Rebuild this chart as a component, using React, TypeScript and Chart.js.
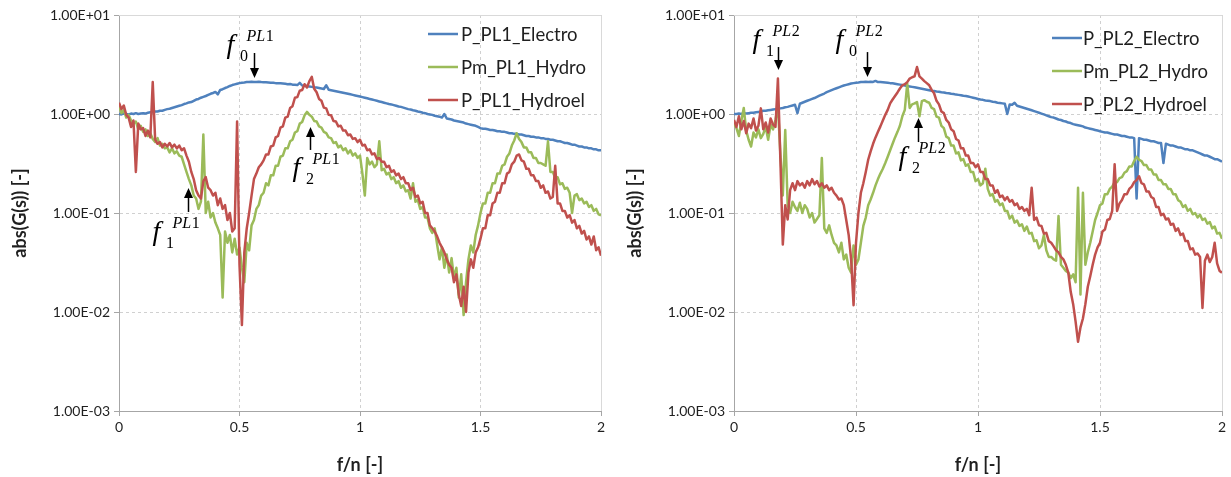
import React, { useEffect, useRef } from "react";
import { Chart, registerables } from "chart.js";

Chart.register(...registerables);

// ---------- DATA ----------
const FREQ = [
  0.00, 0.01, 0.02, 0.03, 0.04, 0.05, 0.06, 0.07, 0.08, 0.09,
  0.10, 0.11, 0.12, 0.13, 0.14, 0.15, 0.16, 0.17, 0.18, 0.19,
  0.20, 0.21, 0.22, 0.23, 0.24, 0.25, 0.26, 0.27, 0.28, 0.29,
  0.30, 0.31, 0.32, 0.33, 0.34, 0.35, 0.36, 0.37, 0.38, 0.39,
  0.40, 0.41, 0.42, 0.43, 0.44, 0.45, 0.46, 0.47, 0.48, 0.49,
  0.50, 0.51, 0.52, 0.53, 0.54, 0.55, 0.56, 0.57, 0.58, 0.59,
  0.60, 0.61, 0.62, 0.63, 0.64, 0.65, 0.66, 0.67, 0.68, 0.69,
  0.70, 0.71, 0.72, 0.73, 0.74, 0.75, 0.76, 0.77, 0.78, 0.79,
  0.80, 0.81, 0.82, 0.83, 0.84, 0.85, 0.86, 0.87, 0.88, 0.89,
  0.90, 0.91, 0.92, 0.93, 0.94, 0.95, 0.96, 0.97, 0.98, 0.99,
  1.00, 1.01, 1.02, 1.03, 1.04, 1.05, 1.06, 1.07, 1.08, 1.09,
  1.10, 1.11, 1.12, 1.13, 1.14, 1.15, 1.16, 1.17, 1.18, 1.19,
  1.20, 1.21, 1.22, 1.23, 1.24, 1.25, 1.26, 1.27, 1.28, 1.29,
  1.30, 1.31, 1.32, 1.33, 1.34, 1.35, 1.36, 1.37, 1.38, 1.39,
  1.40, 1.41, 1.42, 1.43, 1.44, 1.45, 1.46, 1.47, 1.48, 1.49,
  1.50, 1.51, 1.52, 1.53, 1.54, 1.55, 1.56, 1.57, 1.58, 1.59,
  1.60, 1.61, 1.62, 1.63, 1.64, 1.65, 1.66, 1.67, 1.68, 1.69,
  1.70, 1.71, 1.72, 1.73, 1.74, 1.75, 1.76, 1.77, 1.78, 1.79,
  1.80, 1.81, 1.82, 1.83, 1.84, 1.85, 1.86, 1.87, 1.88, 1.89,
  1.90, 1.91, 1.92, 1.93, 1.94, 1.95, 1.96, 1.97, 1.98, 1.99,
  2.00,
];

// Left panel (PL1)
const P_PL1_ELECTRO = [
  1.00, 0.99, 1.01, 1.00, 0.99, 1.01, 1.00, 1.02, 1.00, 1.01,
  1.02, 1.01, 1.03, 1.04, 1.04, 1.06, 1.06, 1.08, 1.08, 1.10,
  1.12, 1.13, 1.15, 1.17, 1.19, 1.21, 1.23, 1.26, 1.28, 1.31,
  1.32, 1.36, 1.40, 1.42, 1.46, 1.49, 1.52, 1.56, 1.60, 1.63,
  1.67, 1.58, 1.75, 1.78, 1.83, 1.87, 1.92, 1.96, 1.99, 2.02,
  2.05, 2.07, 2.08, 2.10, 2.10, 2.12, 2.11, 2.10, 2.12, 2.10,
  2.09, 2.09, 2.08, 2.07, 2.07, 2.05, 2.05, 2.04, 2.03, 2.02,
  2.00, 2.01, 1.98, 1.97, 1.96, 2.06, 1.94, 1.93, 1.91, 1.90,
  1.88, 1.86, 1.85, 1.83, 1.81, 1.79, 1.95, 1.76, 1.74, 1.72,
  1.70, 1.68, 1.66, 1.64, 1.62, 1.60, 1.58, 1.56, 1.54, 1.52,
  1.50, 1.48, 1.46, 1.44, 1.42, 1.40, 1.38, 1.36, 1.34, 1.32,
  1.30, 1.28, 1.26, 1.25, 1.23, 1.21, 1.19, 1.18, 1.16, 1.14,
  1.12, 1.11, 1.09, 1.08, 1.06, 1.05, 1.03, 1.02, 1.00, 0.99,
  0.98, 0.96, 0.95, 0.94, 0.92, 1.00, 0.90, 0.89, 0.88, 0.86,
  0.85, 0.84, 0.83, 0.82, 0.80, 0.79, 0.78, 0.77, 0.76, 0.74,
  0.72, 0.71, 0.71, 0.70, 0.69, 0.69, 0.68, 0.67, 0.67, 0.66,
  0.66, 0.65, 0.64, 0.64, 0.63, 0.63, 0.62, 0.62, 0.61, 0.60,
  0.60, 0.59, 0.59, 0.58, 0.58, 0.57, 0.57, 0.56, 0.56, 0.55,
  0.55, 0.54, 0.53, 0.53, 0.52, 0.51, 0.51, 0.50, 0.49, 0.49,
  0.48, 0.47, 0.47, 0.46, 0.46, 0.45, 0.45, 0.44, 0.44, 0.43,
  0.43,
];
const PM_PL1_HYDRO = [
  1.20, 1.02, 1.10, 0.92, 0.98, 0.86, 0.80, 0.84, 0.70, 0.76,
  0.66, 0.70, 0.60, 0.64, 0.56, 0.52, 0.57, 0.48, 0.50, 0.45,
  0.46, 0.41, 0.45, 0.40, 0.42, 0.38, 0.37, 0.31, 0.26, 0.22,
  0.19, 0.15, 0.14, 0.11, 0.13, 0.62, 0.10, 0.13, 0.09, 0.10,
  0.08, 0.07, 0.06, 0.014, 0.065, 0.05, 0.06, 0.04, 0.055, 0.038,
  0.045, 0.028, 0.02, 0.05, 0.042, 0.075, 0.085, 0.11, 0.12, 0.15,
  0.16, 0.20, 0.19, 0.24, 0.24, 0.30, 0.30, 0.37, 0.38, 0.45,
  0.45, 0.53, 0.55, 0.65, 0.67, 0.80, 0.83, 0.97, 1.05, 0.98,
  0.94, 0.85, 0.84, 0.75, 0.73, 0.66, 0.64, 0.58, 0.57, 0.51,
  0.52, 0.46, 0.48, 0.43, 0.45, 0.40, 0.43, 0.38, 0.40, 0.36,
  0.38, 0.25, 0.15, 0.36, 0.31, 0.33, 0.29, 0.31, 0.53, 0.27,
  0.28, 0.245, 0.255, 0.22, 0.23, 0.20, 0.21, 0.18, 0.19, 0.165,
  0.17, 0.14, 0.20, 0.13, 0.135, 0.11, 0.115, 0.09, 0.09, 0.07,
  0.063, 0.07, 0.048, 0.034, 0.045, 0.028, 0.038, 0.025, 0.035, 0.022,
  0.028, 0.014, 0.024, 0.0093, 0.02, 0.034, 0.047, 0.04, 0.06, 0.075,
  0.10, 0.125, 0.125, 0.16, 0.16, 0.20, 0.20, 0.25, 0.25, 0.30,
  0.31, 0.37, 0.40, 0.48, 0.54, 0.64, 0.56, 0.52, 0.46, 0.46,
  0.41, 0.41, 0.36, 0.36, 0.32, 0.32, 0.31, 0.30, 0.53, 0.26,
  0.26, 0.225, 0.23, 0.195, 0.20, 0.175, 0.18, 0.16, 0.10, 0.15,
  0.155, 0.135, 0.14, 0.125, 0.13, 0.115, 0.12, 0.105, 0.11, 0.097,
  0.095,
];
const P_PL1_HYDROEL = [
  1.30, 1.12, 1.22, 0.98, 0.92, 0.74, 0.86, 0.26, 0.80, 0.70,
  0.72, 0.60, 0.68, 0.58, 2.10, 0.55, 0.50, 0.52, 0.46, 0.50,
  0.47, 0.51, 0.46, 0.49, 0.45, 0.48, 0.43, 0.45, 0.38, 0.33,
  0.26, 0.22, 0.17, 0.15, 0.14, 0.21, 0.23, 0.18, 0.17, 0.15,
  0.16, 0.12, 0.14, 0.11, 0.12, 0.085, 0.10, 0.065, 0.07, 0.84,
  0.03, 0.0074, 0.04, 0.07, 0.10, 0.15, 0.22, 0.25, 0.29, 0.31,
  0.34, 0.39, 0.39, 0.47, 0.48, 0.58, 0.60, 0.73, 0.75, 0.92,
  0.94, 1.15, 1.20, 1.46, 1.48, 1.72, 1.75, 2.00, 1.85, 2.15,
  2.37, 1.80, 1.66, 1.42, 1.36, 1.16, 1.14, 0.98, 0.97, 0.85,
  0.84, 0.75, 0.76, 0.68, 0.68, 0.61, 0.62, 0.56, 0.57, 0.52,
  0.55, 0.48, 0.49, 0.43, 0.44, 0.39, 0.40, 0.35, 0.36, 0.33,
  0.33, 0.29, 0.30, 0.26, 0.27, 0.24, 0.25, 0.22, 0.23, 0.20,
  0.20, 0.17, 0.18, 0.145, 0.15, 0.125, 0.13, 0.10, 0.10, 0.075,
  0.07, 0.065, 0.058, 0.05, 0.045, 0.04, 0.034, 0.03, 0.028, 0.02,
  0.024, 0.015, 0.0115, 0.018, 0.01, 0.025, 0.034, 0.028, 0.04, 0.045,
  0.055, 0.07, 0.07, 0.095, 0.095, 0.125, 0.13, 0.16, 0.16, 0.20,
  0.20, 0.25, 0.26, 0.31, 0.33, 0.38, 0.39, 0.34, 0.33, 0.28,
  0.28, 0.24, 0.24, 0.21, 0.21, 0.18, 0.19, 0.16, 0.165, 0.14,
  0.145, 0.30, 0.125, 0.125, 0.105, 0.105, 0.09, 0.095, 0.08, 0.085,
  0.07, 0.074, 0.062, 0.066, 0.054, 0.058, 0.048, 0.058, 0.042, 0.045,
  0.037,
];

// Right panel (PL2)
const P_PL2_ELECTRO = [
  1.00, 1.00, 1.01, 1.00, 1.02, 1.01, 1.02, 1.03, 1.03, 1.04,
  1.05, 1.06, 1.08, 1.08, 1.09, 1.10, 1.11, 1.12, 1.13, 1.14,
  1.15, 1.17, 1.18, 1.20, 1.22, 1.24, 1.02, 1.27, 1.30, 1.33,
  1.36, 1.39, 1.42, 1.45, 1.49, 1.53, 1.57, 1.61, 1.66, 1.70,
  1.74, 1.78, 1.82, 1.86, 1.90, 1.94, 1.97, 2.00, 2.03, 2.05,
  2.07, 2.08, 2.10, 2.10, 2.12, 2.11, 2.12, 2.11, 2.16, 2.10,
  2.10, 2.09, 2.08, 2.07, 2.05, 2.04, 2.02, 2.00, 1.98, 1.96,
  1.94, 1.92, 1.90, 1.88, 1.86, 1.84, 1.82, 1.80, 1.78, 1.76,
  1.74, 1.72, 1.71, 1.69, 1.68, 1.66, 1.65, 1.63, 1.62, 1.60,
  1.59, 1.57, 1.56, 1.55, 1.53, 1.52, 1.50, 1.48, 1.46, 1.44,
  1.42, 1.40, 1.39, 1.37, 1.36, 1.35, 1.33, 1.32, 1.30, 1.29,
  1.28, 1.27, 1.00, 1.25, 1.24, 1.30, 1.21, 1.19, 1.17, 1.15,
  1.13, 1.11, 1.09, 1.07, 1.05, 1.03, 1.01, 0.99, 0.97, 0.95,
  0.93, 0.92, 0.90, 0.88, 0.87, 0.85, 0.84, 0.82, 0.81, 0.79,
  0.78, 0.77, 0.76, 0.75, 0.73, 0.72, 0.71, 0.70, 0.69, 0.68,
  0.67, 0.66, 0.65, 0.65, 0.64, 0.63, 0.62, 0.62, 0.61, 0.60,
  0.60, 0.59, 0.58, 0.58, 0.57, 0.14, 0.57, 0.56, 0.55, 0.55,
  0.54, 0.53, 0.53, 0.52, 0.51, 0.51, 0.32, 0.50, 0.49, 0.48,
  0.48, 0.47, 0.46, 0.46, 0.45, 0.44, 0.44, 0.43, 0.43, 0.42,
  0.41, 0.40, 0.39, 0.38, 0.38, 0.37, 0.36, 0.35, 0.35, 0.34,
  0.33,
];
const PM_PL2_HYDRO = [
  0.80, 0.72, 0.60, 0.85, 1.15, 0.68, 0.55, 0.47, 0.65, 0.58,
  0.70, 0.57, 0.63, 0.74, 0.55, 0.78, 0.70, 0.87, 1.20, 0.40,
  0.15, 0.69, 0.12, 0.10, 0.13, 0.115, 0.105, 0.127, 0.10, 0.12,
  0.11, 0.09, 0.10, 0.08, 0.087, 0.095, 0.36, 0.07, 0.063, 0.075,
  0.06, 0.05, 0.047, 0.04, 0.05, 0.034, 0.038, 0.028, 0.025, 0.047,
  0.03, 0.034, 0.05, 0.074, 0.09, 0.12, 0.137, 0.16, 0.19, 0.22,
  0.25, 0.28, 0.32, 0.37, 0.43, 0.50, 0.58, 0.66, 0.76, 0.95,
  1.10, 2.03, 1.15, 1.25, 1.28, 1.32, 0.95, 1.35, 1.38, 1.33,
  1.30, 1.15, 1.12, 0.94, 0.92, 0.76, 0.72, 0.59, 0.57, 0.48,
  0.48, 0.40, 0.41, 0.34, 0.35, 0.30, 0.31, 0.26, 0.26, 0.21,
  0.22, 0.19, 0.20, 0.28, 0.175, 0.15, 0.155, 0.13, 0.135, 0.12,
  0.125, 0.105, 0.105, 0.088, 0.094, 0.08, 0.084, 0.074, 0.077, 0.066,
  0.073, 0.062, 0.063, 0.052, 0.053, 0.044, 0.047, 0.06, 0.042, 0.036,
  0.036, 0.034, 0.033, 0.093, 0.03, 0.028, 0.026, 0.025, 0.022, 0.024,
  0.02, 0.18, 0.015, 0.16, 0.03, 0.04, 0.05, 0.065, 0.085, 0.10,
  0.12, 0.125, 0.155, 0.155, 0.175, 0.185, 0.205, 0.205, 0.225, 0.23,
  0.255, 0.265, 0.295, 0.295, 0.335, 0.37, 0.345, 0.335, 0.305, 0.305,
  0.275, 0.275, 0.245, 0.245, 0.215, 0.215, 0.195, 0.195, 0.175, 0.175,
  0.155, 0.155, 0.135, 0.13, 0.115, 0.12, 0.105, 0.11, 0.097, 0.10,
  0.09, 0.096, 0.085, 0.088, 0.078, 0.081, 0.07, 0.073, 0.062, 0.063,
  0.055,
];
const P_PL2_HYDROEL = [
  0.87, 0.74, 0.95, 0.70, 0.85, 0.64, 0.80, 0.72, 0.90, 0.68,
  0.76, 1.14, 0.70, 0.82, 0.65, 0.90, 0.78, 0.74, 2.28, 0.35,
  0.048, 0.12, 0.086, 0.17, 0.20, 0.17, 0.21, 0.19, 0.20, 0.18,
  0.21, 0.19, 0.22, 0.195, 0.21, 0.185, 0.20, 0.18, 0.19, 0.17,
  0.18, 0.16, 0.15, 0.137, 0.14, 0.12, 0.085, 0.06, 0.034, 0.0117,
  0.05, 0.10, 0.16, 0.20, 0.26, 0.345, 0.42, 0.50, 0.58, 0.66,
  0.75, 0.86, 0.98, 1.10, 1.28, 1.40, 1.52, 1.65, 1.81, 1.95,
  2.00, 2.10, 2.28, 2.35, 2.40, 2.98, 2.40, 2.28, 2.15, 2.05,
  1.95, 1.75, 1.62, 1.36, 1.25, 1.06, 1.02, 0.87, 0.82, 0.70,
  0.67, 0.56, 0.54, 0.45, 0.45, 0.38, 0.38, 0.32, 0.32, 0.29,
  0.31, 0.26, 0.26, 0.22, 0.22, 0.19, 0.19, 0.16, 0.17, 0.145,
  0.15, 0.135, 0.145, 0.13, 0.135, 0.12, 0.125, 0.11, 0.115, 0.105,
  0.11, 0.095, 0.18, 0.085, 0.09, 0.075, 0.074, 0.062, 0.063, 0.052,
  0.05, 0.046, 0.042, 0.04, 0.036, 0.034, 0.03, 0.025, 0.016, 0.012,
  0.008, 0.005, 0.007, 0.0086, 0.012, 0.018, 0.023, 0.03, 0.038, 0.045,
  0.05, 0.065, 0.068, 0.085, 0.087, 0.105, 0.31, 0.105, 0.125, 0.135,
  0.155, 0.155, 0.175, 0.185, 0.205, 0.215, 0.235, 0.20, 0.195, 0.165,
  0.165, 0.145, 0.14, 0.115, 0.115, 0.095, 0.098, 0.086, 0.088, 0.076,
  0.078, 0.066, 0.07, 0.06, 0.062, 0.052, 0.052, 0.043, 0.044, 0.038,
  0.039, 0.036, 0.011, 0.033, 0.038, 0.032, 0.036, 0.05, 0.031, 0.026,
  0.025,
];

const PL1_NAMES = ["P_PL1_Electro", "Pm_PL1_Hydro", "P_PL1_Hydroel"];
const PL2_NAMES = ["P_PL2_Electro", "Pm_PL2_Hydro", "P_PL2_Hydroel"];

const Y_TICK_VALUES = [0.001, 0.01, 0.1, 1, 10];
const Y_TICK_LABELS = ["1.00E-03", "1.00E-02", "1.00E-01", "1.00E+00", "1.00E+01"];
const X_TICK_VALUES = [0, 0.5, 1, 1.5, 2];
const X_TICK_LABELS = ["0", "0.5", "1", "1.5", "2"];

const X_TITLE = "f/n [-]";
const Y_TITLE = "abs(G(s)) [-]";

// annotation markers: frequency, value at arrow tip, arrow direction, subscript, superscript
const PL1_MARKS = [
  { freq: 0.56, tip: 2.31, dir: "down", sub: "0", sup: "PL", supNum: "1" },
  { freq: 0.793, tip: 0.74, dir: "up", sub: "2", sup: "PL", supNum: "1" },
  { freq: 0.286, tip: 0.179, dir: "up", sub: "1", sup: "PL", supNum: "1" },
];
const PL2_MARKS = [
  { freq: 0.18, tip: 2.78, dir: "down", sub: "1", sup: "PL", supNum: "2" },
  { freq: 0.545, tip: 2.36, dir: "down", sub: "0", sup: "PL", supNum: "2" },
  { freq: 0.754, tip: 0.91, dir: "up", sub: "2", sup: "PL", supNum: "2" },
];

// ---------- STYLE ----------
const COLORS = ["#4F81BD", "#9BBB59", "#C0504D"];
const SANS = "Lato";
const SERIF = '"Liberation Serif", "Times New Roman", serif';
const TEXT_COLOR = "#1f1f1f";
const AXIS_COLOR = "#a6a6a6";
const GRID_COLOR = "#d0d0d0";

// text placement offsets (px) for marks: arrow length, f offset from arrow tail
const PL1_MARK_LAYOUT = [
  { len: 25, dx: -28, dy: 0 },
  { len: 23, dx: -18, dy: 26 },
  { len: 24, dx: -36, dy: 28 },
];
const PL2_MARK_LAYOUT = [
  { len: 23, dx: -26, dy: 1 },
  { len: 25, dx: -32, dy: -4 },
  { len: 24, dx: -20, dy: 23 },
];

type Mark = { freq: number; tip: number; dir: string; sub: string; sup: string; supNum: string };
type MarkLayout = { len: number; dx: number; dy: number };
type LegendLayout = { x1: number; x2: number; tx: number; y0: number; dy: number };

function makePlugin(names: string[], marks: Mark[], layouts: MarkLayout[], legend: LegendLayout) {
  return {
    id: "decor",
    beforeDatasetsDraw(chart: any) {
      const { ctx, chartArea } = chart;
      ctx.save();
      ctx.strokeStyle = "#d9d9d9";
      ctx.lineWidth = 1;
      ctx.setLineDash([]);
      ctx.beginPath();
      ctx.moveTo(chartArea.left, chartArea.top + 0.5);
      ctx.lineTo(chartArea.right + 0.5, chartArea.top + 0.5);
      ctx.lineTo(chartArea.right + 0.5, chartArea.bottom);
      ctx.stroke();
      ctx.restore();
    },
    afterDatasetsDraw(chart: any) {
      const { ctx, chartArea } = chart;
      const xs = chart.scales.x;
      const ys = chart.scales.y;
      ctx.save();
      // legend
      names.forEach((name, i) => {
        const y = chartArea.top + legend.y0 + i * legend.dy;
        ctx.strokeStyle = COLORS[i];
        ctx.lineWidth = 2.5;
        ctx.beginPath();
        ctx.moveTo(chartArea.right + legend.x1, y);
        ctx.lineTo(chartArea.right + legend.x2, y);
        ctx.stroke();
        ctx.fillStyle = TEXT_COLOR;
        ctx.font = `18.5px ${SANS}`;
        ctx.textBaseline = "middle";
        ctx.textAlign = "left";
        ctx.fillText(name, chartArea.right + legend.tx, y + 1);
      });
      // marks
      marks.forEach((m, i) => {
        const lay = layouts[i];
        const px = Math.round(xs.getPixelForValue(m.freq)) + 0.5;
        const tipY = ys.getPixelForValue(m.tip);
        const sign = m.dir === "down" ? -1 : 1;
        const tailY = tipY + sign * lay.len;
        const headLen = 10;
        const headW = 4.5;
        ctx.strokeStyle = "#000";
        ctx.fillStyle = "#000";
        ctx.lineWidth = 1.5;
        ctx.beginPath();
        ctx.moveTo(px, tailY);
        ctx.lineTo(px, tipY + sign * headLen);
        ctx.stroke();
        ctx.beginPath();
        ctx.moveTo(px, tipY);
        ctx.lineTo(px - headW, tipY + sign * headLen);
        ctx.lineTo(px + headW, tipY + sign * headLen);
        ctx.closePath();
        ctx.fill();
        // text f_sub^sup
        const fx = px + lay.dx;
        const fb = tailY + lay.dy;
        ctx.textBaseline = "alphabetic";
        ctx.textAlign = "left";
        ctx.font = `italic 28px ${SERIF}`;
        ctx.fillText("f", fx, fb);
        ctx.font = `16px ${SERIF}`;
        ctx.fillText(m.sub, fx + 13.5, fb + 8);
        ctx.font = `italic 16px ${SERIF}`;
        ctx.fillText(m.sup, fx + 20, fb - 12);
        const w = ctx.measureText(m.sup).width;
        ctx.font = `16px ${SERIF}`;
        ctx.fillText(m.supNum, fx + 20 + w + 0.5, fb - 12);
      });
      ctx.restore();
    },
  };
}

type PanelProps = {
  left: number;
  width: number;
  rightPad: number;
  names: string[];
  series: number[][];
  marks: Mark[];
  markLayouts: MarkLayout[];
  legend: LegendLayout;
};

function Panel(props: PanelProps) {
  const ref = useRef<HTMLCanvasElement | null>(null);
  useEffect(() => {
    const canvas = ref.current;
    if (!canvas) return;
    const datasets = props.series.map((vals, i) => ({
      label: props.names[i],
      data: FREQ.map((f, k) => ({ x: f, y: vals[k] })),
      borderColor: COLORS[i],
      backgroundColor: COLORS[i],
      borderWidth: 2.5,
      borderJoinStyle: "round" as const,
      pointRadius: 0,
      tension: 0,
      order: 2 - i,
    }));
    const tickFont = { family: SANS, size: 14 };
    const titleFont = { family: SANS, size: 18, weight: "bold" as const };
    const chart = new Chart(canvas, {
      type: "line",
      data: { datasets },
      options: {
        animation: false,
        responsive: false,
        maintainAspectRatio: false,
        layout: { padding: { top: 15, right: props.rightPad, bottom: 0, left: 0 } },
        plugins: { legend: { display: false }, tooltip: { enabled: false } },
        scales: {
          x: {
            type: "linear",
            min: 0,
            max: 2,
            afterBuildTicks: (s: any) => {
              s.ticks = X_TICK_VALUES.map((v) => ({ value: v }));
            },
            afterFit: (s: any) => {
              s.height = 66;
            },
            ticks: {
              autoSkip: false,
              maxRotation: 0,
              font: tickFont,
              color: TEXT_COLOR,
              padding: 3,
              callback: (_v: any, i: number) => X_TICK_LABELS[i],
            },
            grid: { color: GRID_COLOR, tickLength: 5, tickColor: AXIS_COLOR, lineWidth: 1 },
            border: { display: true, color: AXIS_COLOR, width: 1, dash: [3, 3] },
            title: {
              display: true,
              text: X_TITLE,
              font: titleFont,
              color: TEXT_COLOR,
              padding: { top: 0, bottom: 1 },
            },
          },
          y: {
            type: "logarithmic",
            min: 0.001,
            max: 10,
            afterBuildTicks: (s: any) => {
              s.ticks = Y_TICK_VALUES.map((v) => ({ value: v }));
            },
            afterFit: (s: any) => {
              s.width = 119;
            },
            ticks: {
              autoSkip: false,
              font: tickFont,
              color: TEXT_COLOR,
              padding: 4,
              callback: (_v: any, i: number) => Y_TICK_LABELS[i],
            },
            grid: { color: GRID_COLOR, tickLength: 5, tickColor: AXIS_COLOR, lineWidth: 1 },
            border: { display: true, color: AXIS_COLOR, width: 1, dash: [3, 3] },
            title: {
              display: true,
              text: Y_TITLE,
              font: titleFont,
              color: TEXT_COLOR,
              padding: { top: 9, bottom: 0 },
            },
          },
        },
      } as any,
      plugins: [makePlugin(props.names, props.marks, props.markLayouts, props.legend)],
    });
    return () => chart.destroy();
  }, []);
  return (
    <canvas
      ref={ref}
      width={props.width}
      height={477}
      style={{ position: "absolute", left: props.left, top: 0, width: props.width, height: 477, display: "block" }}
    />
  );
}

export default function App() {
  return (
    <div style={{ position: "absolute", left: 0, top: 0, width: 1231, height: 477, background: "#ffffff", overflow: "hidden" }}>
      <Panel
        left={0}
        width={615}
        rightPad={14}
        names={PL1_NAMES}
        series={[P_PL1_ELECTRO, PM_PL1_HYDRO, P_PL1_HYDROEL]}
        marks={PL1_MARKS}
        markLayouts={PL1_MARK_LAYOUT}
        legend={{ x1: -173, x2: -143, tx: -140, y0: 19, dy: 33 }}
      />
      <Panel
        left={615}
        width={616}
        rightPad={9}
        names={PL2_NAMES}
        series={[P_PL2_ELECTRO, PM_PL2_HYDRO, P_PL2_HYDROEL]}
        marks={PL2_MARKS}
        markLayouts={PL2_MARK_LAYOUT}
        legend={{ x1: -170, x2: -140, tx: -139, y0: 23, dy: 33 }}
      />
    </div>
  );
}
